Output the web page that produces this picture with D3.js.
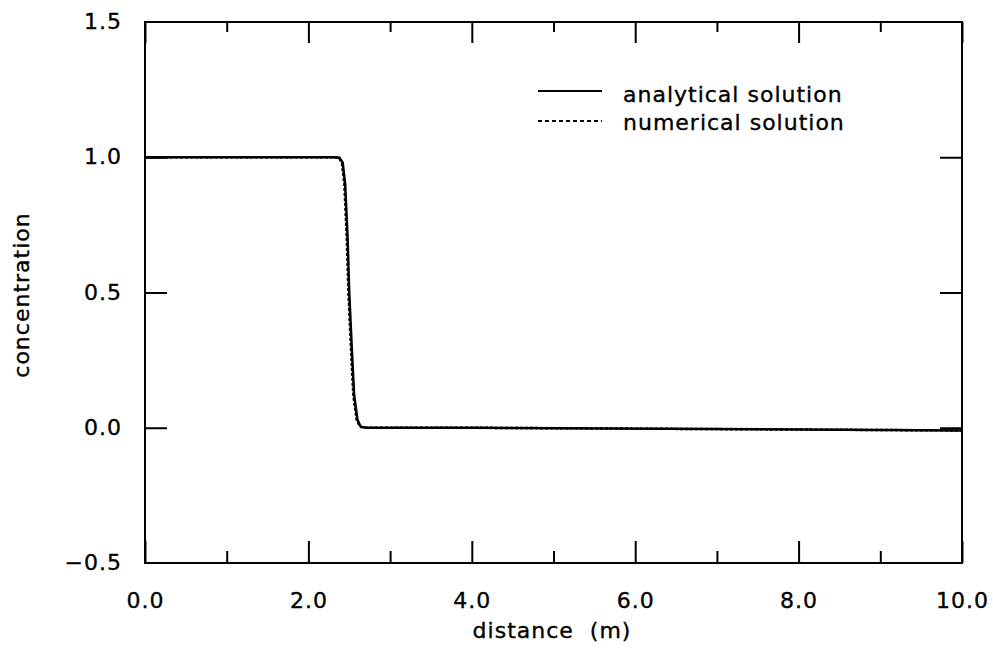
<!DOCTYPE html>
<html><head><meta charset="utf-8">
<script src="https://cdn.jsdelivr.net/npm/d3@7"></script>
<style>body{margin:0;background:#fff}text{font-family:"DejaVu Sans",sans-serif;fill:#000;stroke:#000;stroke-width:0.35px;letter-spacing:1px}</style>
</head><body><svg id="c" width="993" height="650"></svg>
<script>
const xTicks=[0,2,4,6,8,10];
const xMinor=[1,3,5,7,9];
const yTicks=[-0.5,0,0.5,1.0,1.5];
const analyticalX=[0,2.30,2.38,2.42,2.45,2.48,2.50,2.53,2.56,2.60,2.64,2.70,4.0,10.0];
const analyticalY=[1.0,1.0,0.998,0.98,0.9,0.7,0.5,0.3,0.12,0.03,0.004,0.0,0.0,-0.01];
const numericalX=[0,2.30,2.37,2.41,2.44,2.47,2.49,2.52,2.55,2.59,2.63,2.69,4.0,10.0];
const numericalY=[1.0,1.0,0.998,0.98,0.9,0.7,0.5,0.3,0.12,0.03,0.004,0.0,0.0,-0.01];
const seriesNames=["analytical solution","numerical solution"];

const svg=d3.select("#c");
const L=145,R=962,T=22,B=563;
const x=d3.scaleLinear().domain([0,10]).range([L,R]);
const y=d3.scaleLinear().domain([-0.5,1.5]).range([B,T]);

svg.append("rect").attr("x",L).attr("y",T).attr("width",R-L).attr("height",B-T)
 .attr("fill","none").attr("stroke","#000").attr("stroke-width",2);

const fmt=d=>d.toFixed(1).replace("-","\u2212");
const gb=svg.append("g").attr("transform",`translate(0,${B})`)
 .call(d3.axisBottom(x).tickValues(xTicks).tickSize(-22).tickPadding(29).tickFormat(fmt));
const gbm=svg.append("g").attr("transform",`translate(0,${B})`)
 .call(d3.axisBottom(x).tickValues(xMinor).tickSize(-12).tickFormat(""));
const gt=svg.append("g").attr("transform",`translate(0,${T})`)
 .call(d3.axisTop(x).tickValues(xTicks).tickSize(-21).tickFormat(""));
const gtm=svg.append("g").attr("transform",`translate(0,${T})`)
 .call(d3.axisTop(x).tickValues(xMinor).tickSize(-10).tickFormat(""));
const gl=svg.append("g").attr("transform",`translate(${L},0)`)
 .call(d3.axisLeft(y).tickValues(yTicks).tickSize(-22).tickPadding(23).tickFormat(fmt));
const gr=svg.append("g").attr("transform",`translate(${R},0)`)
 .call(d3.axisRight(y).tickValues(yTicks).tickSize(-22).tickFormat(""));
[gb,gbm,gt,gtm,gl,gr].forEach(g=>{
 g.select(".domain").remove();
 g.selectAll("line").attr("stroke","#000").attr("stroke-width",2);
 g.selectAll("text").style("font-size","22px").attr("fill","#000");
});
gl.selectAll("text").attr("text-anchor","end").attr("dy","0.3em");
gl.selectAll(".tick").filter(d=>d===-0.5||d===1.5).select("line").remove();
gr.selectAll(".tick").filter(d=>d===-0.5||d===1.5).select("line").remove();

const line=d3.line().x(d=>x(d[0])).y(d=>y(d[1]));
const a=analyticalX.map((v,i)=>[v,analyticalY[i]]);
const n=numericalX.map((v,i)=>[v,numericalY[i]]);
svg.append("path").attr("d",line(a)).attr("fill","none").attr("stroke","#000").attr("stroke-width",2.5);
svg.append("path").attr("d",line(n)).attr("fill","none").attr("stroke","#000").attr("stroke-width",2.5).attr("stroke-dasharray","3,2");

const lg=svg.append("g");
lg.append("line").attr("x1",538).attr("x2",602).attr("y1",91).attr("y2",91).attr("stroke","#000").attr("stroke-width",2);
lg.append("line").attr("x1",538).attr("x2",602).attr("y1",121).attr("y2",121).attr("stroke","#000").attr("stroke-width",2).attr("stroke-dasharray","4,3");
lg.append("text").attr("x",623).attr("y",102).style("font-size","22px").text(seriesNames[0]);
lg.append("text").attr("x",623).attr("y",130).style("font-size","22px").text(seriesNames[1]);

svg.append("text").attr("x",552).attr("y",638).attr("text-anchor","middle").style("font-size","22px").style("white-space","pre").text("distance  (m)");
svg.append("text").attr("transform","translate(29,295) rotate(-90)").attr("text-anchor","middle").style("font-size","22px").text("concentration");
</script></body></html>
